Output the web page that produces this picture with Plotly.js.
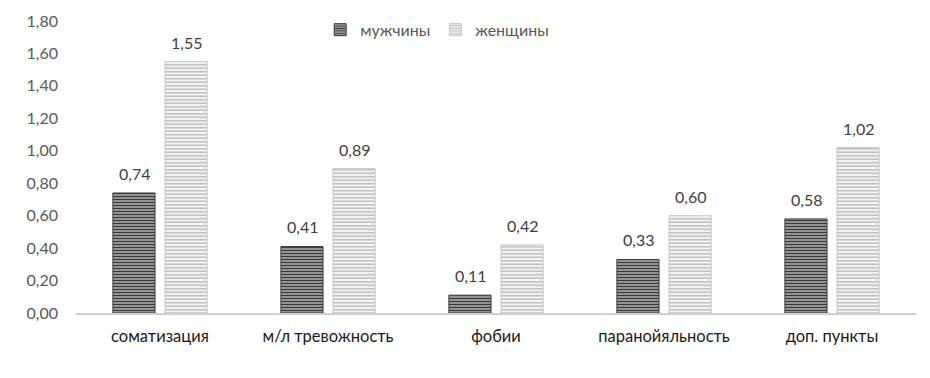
<!DOCTYPE html>
<html>
<head>
<meta charset="utf-8">
<script src="https://cdn.plot.ly/plotly-3.0.1.min.js"></script>
<style>html,body{margin:0;padding:0;background:#fff;}#chart{width:930px;height:378px;}</style>
</head>
<body>
<div id="chart"></div>
<script>
const categories = ["соматизация", "м/л тревожность", "фобии", "паранойяльность", "доп. пункты"];
const men = [0.74, 0.41, 0.11, 0.33, 0.58];
const women = [1.55, 0.89, 0.42, 0.60, 1.02];
const seriesNames = ["мужчины", "женщины"];
const yTicks = [0, 0.2, 0.4, 0.6, 0.8, 1.0, 1.2, 1.4, 1.6, 1.8];

const FONT = "Lato, 'Open Sans', sans-serif";

const traces = [
  {
    type: "bar", name: seriesNames[0], x: categories, y: men,
    marker: {
      color: "#9a9a9a",
      line: {color: "#404040", width: 1},
      pattern: {shape: "-", fgcolor: "#3a3a3a", bgcolor: "#b0b0b0", size: 3, solidity: 0.5, fillmode: "replace"}
    },
    hoverinfo: "skip"
  },
  {
    type: "bar", name: seriesNames[1], x: categories, y: women,
    marker: {
      color: "#e0e0e0",
      line: {color: "#c8c8c8", width: 1},
      pattern: {shape: "-", fgcolor: "#c4c4c4", bgcolor: "#f4f4f4", size: 3.5, solidity: 0.5, fillmode: "replace"}
    },
    hoverinfo: "skip"
  }
];

const fmt = v => v.toFixed(2).replace(".", ",");
const annotations = [];
[men, women].forEach((vals, s) => {
  vals.forEach((v, i) => {
    annotations.push({
      x: i, y: v, xref: "x", yref: "y", text: fmt(v), showarrow: false,
      xanchor: "center", yanchor: "bottom", yshift: 8, xshift: s === 0 ? -26 : 26,
      font: {family: FONT, size: 16, color: "#404040"}
    });
  });
});

const layout = {
  width: 930, height: 378,
  margin: {l: 76, r: 14, t: 21, b: 65},
  separators: ", ",
  paper_bgcolor: "#fff", plot_bgcolor: "#fff",
  font: {family: FONT, size: 16, color: "#595959"},
  barmode: "group", bargap: 0.38, bargroupgap: 0.19,
  showlegend: true,
  annotations: annotations,
  legend: {orientation: "h", x: 0.43, xanchor: "center", y: 0.97, yanchor: "middle",
           font: {family: FONT, size: 16, color: "#595959"}, itemwidth: 30, traceorder: "normal",
           bgcolor: "rgba(0,0,0,0)"},
  xaxis: {
    showgrid: false, showline: true, linecolor: "#d0d0d0", linewidth: 2,
    ticks: "", tickfont: {family: FONT, size: 16.5, color: "#1a1a1a"}, automargin: false,
    ticklabelstandoff: 7
  },
  yaxis: {
    range: [0, 1.8], tickvals: yTicks, tickformat: ".2f", showgrid: false, zeroline: false,
    showline: false, ticks: "", ticklabelstandoff: 17,
    tickfont: {family: FONT, size: 16, color: "#595959"}, automargin: false
  }
};

Plotly.newPlot("chart", traces, layout, {displayModeBar: false, staticPlot: true});
</script>
</body>
</html>
